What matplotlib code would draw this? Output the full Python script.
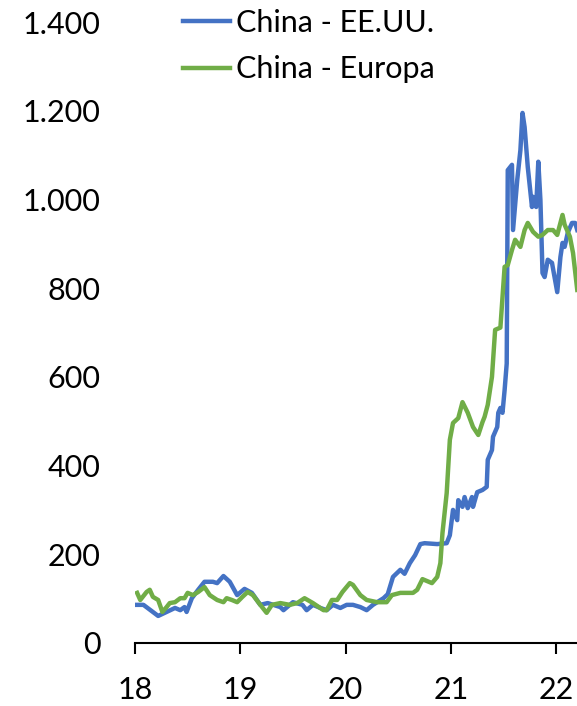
import matplotlib
matplotlib.use("Agg")
import matplotlib.pyplot as plt

plt.rcParams['font.family'] = ['Lato', 'DejaVu Sans']

# Freight cost index, China routes (decimal years)
usa_x = [2018.02, 2018.05, 2018.08, 2018.22, 2018.30, 2018.38, 2018.43, 2018.47, 2018.49,
         2018.54, 2018.60, 2018.66, 2018.74, 2018.78, 2018.84, 2018.90, 2018.97, 2019.04,
         2019.11, 2019.19, 2019.26, 2019.38, 2019.41, 2019.50, 2019.59, 2019.63, 2019.69,
         2019.76, 2019.82, 2019.88, 2019.95, 2020.01, 2020.07, 2020.14, 2020.20, 2020.26,
         2020.36, 2020.40, 2020.45, 2020.52, 2020.56, 2020.61, 2020.66, 2020.71, 2020.75,
         2020.87, 2020.96, 2020.99, 2021.02, 2021.06, 2021.07, 2021.11, 2021.13, 2021.16,
         2021.20, 2021.21, 2021.25, 2021.30, 2021.34, 2021.35, 2021.39, 2021.40, 2021.44,
         2021.45, 2021.47, 2021.49, 2021.51, 2021.53, 2021.54, 2021.58, 2021.59, 2021.63,
         2021.66, 2021.68, 2021.70, 2021.73, 2021.77, 2021.78, 2021.81, 2021.83, 2021.85,
         2021.87, 2021.89, 2021.92, 2021.96, 2022.01, 2022.04, 2022.06, 2022.08, 2022.11,
         2022.15, 2022.18, 2022.20]
usa_y = [86, 86, 86, 61, 70, 79, 74, 81, 70,
         101, 120, 138, 138, 135, 151, 138, 108, 122,
         113, 86, 90, 81, 74, 92, 86, 74, 86,
         79, 74, 86, 79, 86, 86, 81, 74, 86,
         101, 110, 149, 165, 156, 180, 198, 223, 225,
         223, 225, 243, 300, 277, 322, 307, 329, 304,
         329, 307, 340, 345, 352, 413, 435, 465, 487,
         519, 530, 519, 570, 630, 1066, 1078, 931, 1044,
         1111, 1195, 1163, 1073, 983, 1006, 983, 1085, 999,
         834, 825, 864, 857, 791, 870, 902, 893, 925,
         947, 947, 931]

eur_x = [2018.02, 2018.05, 2018.11, 2018.14, 2018.17, 2018.22, 2018.26, 2018.30, 2018.33,
         2018.38, 2018.43, 2018.47, 2018.50, 2018.55, 2018.60, 2018.66, 2018.71, 2018.78,
         2018.84, 2018.87, 2018.92, 2018.97, 2019.02, 2019.07, 2019.12, 2019.19, 2019.25,
         2019.30, 2019.38, 2019.47, 2019.54, 2019.61, 2019.69, 2019.79, 2019.82, 2019.87,
         2019.92, 2019.97, 2020.04, 2020.07, 2020.14, 2020.20, 2020.30, 2020.39, 2020.44,
         2020.52, 2020.64, 2020.68, 2020.73, 2020.75, 2020.82, 2020.87, 2020.90, 2020.92,
         2020.96, 2020.99, 2021.02, 2021.07, 2021.11, 2021.16, 2021.21, 2021.26, 2021.30,
         2021.32, 2021.35, 2021.39, 2021.42, 2021.47, 2021.51, 2021.54, 2021.58, 2021.61,
         2021.66, 2021.70, 2021.73, 2021.78, 2021.83, 2021.87, 2021.92, 2021.97, 2022.01,
         2022.06, 2022.08, 2022.13, 2022.16, 2022.20]
eur_y = [113, 97, 115, 120, 104, 97, 70, 81, 90,
         92, 101, 101, 113, 108, 115, 126, 108, 97,
         92, 101, 97, 92, 104, 115, 108, 86, 68,
         86, 90, 86, 90, 101, 90, 74, 74, 97,
         97, 115, 135, 131, 108, 97, 92, 92, 108,
         113, 113, 120, 144, 142, 135, 149, 180, 248,
         338, 458, 496, 507, 543, 519, 487, 469, 498,
         510, 537, 600, 706, 711, 848, 852, 886, 909,
         893, 931, 947, 927, 916, 920, 931, 931, 920,
         965, 943, 916, 879, 796]

series_names = ["China - EE.UU.", "China - Europa"]
year_ticks = [2018, 2019, 2020, 2021, 2022]
year_labels = ["18", "19", "20", "21", "22"]
y_ticks = [0, 200, 400, 600, 800, 1000, 1200, 1400]
y_labels = ["0", "200", "400", "600", "800", "1.000", "1.200", "1.400"]

fig = plt.figure(figsize=(5.77, 7.06), dpi=100)
ax = fig.add_axes([135 / 577, 63 / 706, 1 - 135 / 577, (643 - 22) / 706])

blue = "#4472C4"
green = "#70AD47"
lw = 3.2
ax.plot(usa_x, usa_y, color=blue, lw=lw, label=series_names[0], solid_joinstyle="round")
ax.plot(eur_x, eur_y, color=green, lw=lw, label=series_names[1], solid_joinstyle="round")

ax.set_xlim(2018, 2018 + (577 - 135) / 105.3)
ax.set_ylim(0, 1400)
ax.set_xticks(year_ticks)
ax.set_xticklabels(year_labels)
ax.set_yticks(y_ticks)
ax.set_yticklabels(y_labels)

for s in ["top", "right", "left"]:
    ax.spines[s].set_visible(False)
ax.spines["bottom"].set_linewidth(1.5)
ax.spines["bottom"].set_color("black")

ax.tick_params(axis="x", direction="out", length=8, width=1.5, pad=16,
               labelsize=22, colors="black")
ax.tick_params(axis="y", length=0, pad=25, labelsize=22, colors="black")

for lbl in ax.get_yticklabels():
    lbl.set_clip_on(False)

leg = fig.legend(loc="upper left", bbox_to_anchor=(183 / 577, 1 - 9 / 706),
                 frameon=False, fontsize=22, handlelength=1.55, handletextpad=0.2,
                 labelspacing=0.6, borderpad=0, borderaxespad=0)
for line in leg.get_lines():
    line.set_linewidth(lw)

fig.savefig("out.png", dpi=100)
